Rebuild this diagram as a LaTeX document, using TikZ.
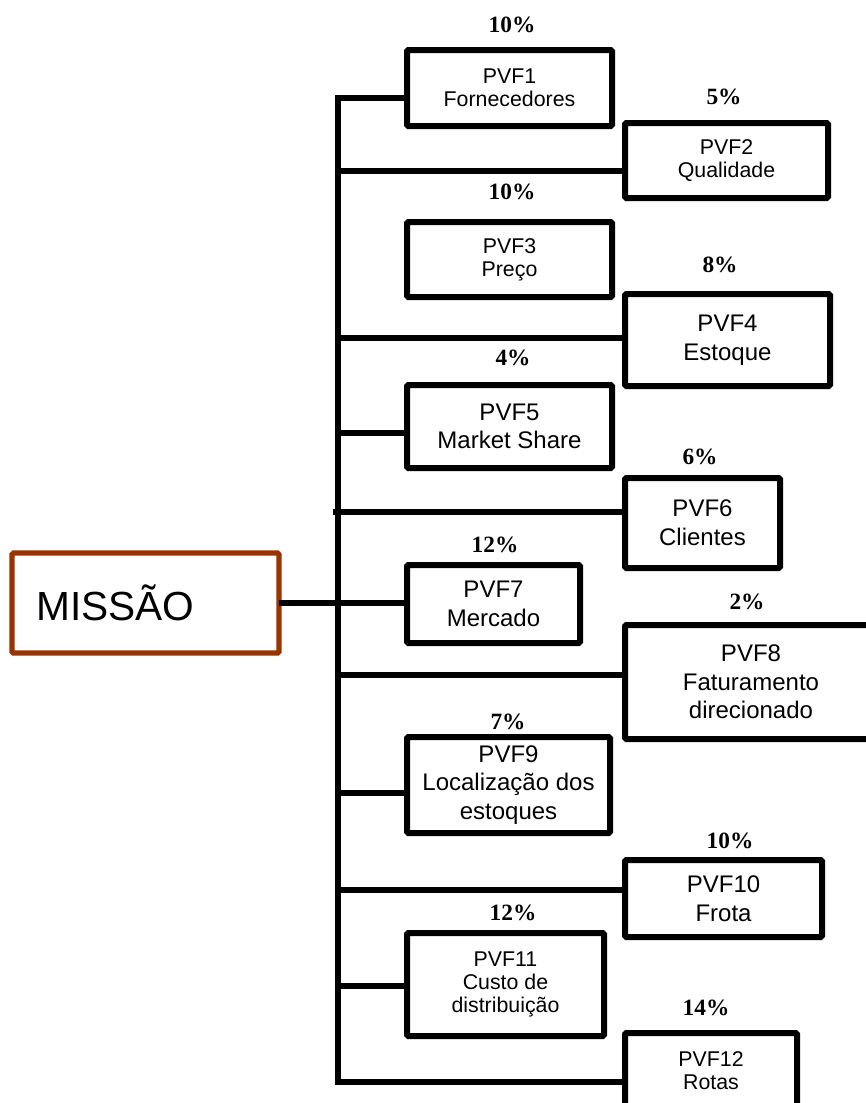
\documentclass[tikz,border=0pt]{standalone}
\usepackage{fontspec}
\setmainfont{Liberation Sans}
\newfontfamily\pctfont{Liberation Serif}

\definecolor{rust}{RGB}{153,51,0}

\tikzset{
  % rectangle given by its corners (x1,y1) (x2,y2) in picture units
  span/.style n args={4}{anchor=north west, at={(#1,#2)},
    minimum width={(#3-#1)*0.75pt}, minimum height={(#4-#2)*0.75pt}},
  box/.style={draw=black, line width=4.5pt, inner sep=0pt, outer sep=0pt,
    rounded corners=1pt, align=center},
  smalltxt/.style={font=\fontsize{16}{17.5}\selectfont},
  largetxt/.style={font=\fontsize{18}{21.5}\selectfont},
  pct/.style={font=\pctfont\bfseries\fontsize{17.5}{20}\selectfont, inner sep=0pt},
  link/.style={line width=4.5pt},
  mission/.style={draw=rust, line width=3.8pt, inner sep=0pt, outer sep=0pt, rounded corners=1pt}
}

\begin{document}
\begin{tikzpicture}[x=0.75pt, y=-0.75pt]
  \useasboundingbox (0,0) rectangle (866,1103);
  \fill[white] (0,0) rectangle (866,1103);
  \clip (0,0) rectangle (866,1103);

  % root box
  \node[mission, span={12}{553}{279}{653}] (m) {};
  \node[anchor=base west, inner sep=0pt, font=\fontsize{30.5}{36}\selectfont] (mt) at (36,620) {MISSÃO};

  % factor boxes, left column
  \node[box, smalltxt, span={407}{50}{612}{126}]   (p1)  {PVF1\\Fornecedores};
  \node[box, smalltxt, span={407}{222}{612}{297}]  (p3)  {PVF3\\Preço};
  \node[box, largetxt, span={407}{385}{612}{468}]  (p5)  {PVF5\\Market Share};
  \node[box, largetxt, span={407}{565}{580}{643}]  (p7)  {PVF7\\Mercado};
  \node[box, largetxt, span={407}{737}{610}{833}]  (p9)  {PVF9\\Localização dos\\estoques};
  \node[box, smalltxt, span={407}{933}{604}{1036}] (p11) {PVF11\\Custo de\\distribuição};

  % factor boxes, right column
  \node[box, smalltxt, span={625}{123}{828}{198}]  (p2)  {PVF2\\Qualidade};
  \node[box, largetxt, span={625}{294}{830}{386}]  (p4)  {PVF4\\Estoque};
  \node[box, largetxt, span={625}{478}{780}{568}]  (p6)  {PVF6\\Clientes};
  \node[box, largetxt, span={625}{625}{877}{739}]  (p8)  {PVF8\\Faturamento\\direcionado};
  \node[box, largetxt, span={625}{860}{822}{937}]  (p10) {PVF10\\Frota};
  \node[box, smalltxt, span={625}{1033}{797}{1108}] (p12) {PVF12\\Rotas};

  % weights
  \node[pct] (w1)  at (512,25)   {10\%};
  \node[pct] (w2)  at (724,97)   {5\%};
  \node[pct] (w3)  at (512,192)  {10\%};
  \node[pct] (w4)  at (720,265)  {8\%};
  \node[pct] (w5)  at (513,358)  {4\%};
  \node[pct] (w6)  at (700,457)  {6\%};
  \node[pct] (w7)  at (495,545)  {12\%};
  \node[pct] (w8)  at (747,602)  {2\%};
  \node[pct] (w9)  at (508,722)  {7\%};
  \node[pct] (w10) at (730,841)  {10\%};
  \node[pct] (w11) at (513,913)  {12\%};
  \node[pct] (w12) at (706,1008) {14\%};

  % trunk junctions
  \coordinate (ttop) at (338,98);
  \coordinate (tbot) at (338,1082);
  \coordinate (j2)  at (338,171);
  \coordinate (j4)  at (338,338);
  \coordinate (j5)  at (338,433);
  \coordinate (j6)  at (333,512);
  \coordinate (j7)  at (338,603);
  \coordinate (j8)  at (338,675);
  \coordinate (j9)  at (338,793);
  \coordinate (j10) at (338,890);
  \coordinate (j11) at (338,986);

  % trunk with first and last branches
  \draw[link, line join=miter] (p1.west |- ttop) -- (ttop) -- (tbot) -- (p12.west |- tbot);

  % branches
  \draw[link] (j2)  -- (p2.west |- j2);
  \draw[link] (j4)  -- (p4.west |- j4);
  \draw[link] (j5)  -- (p5.west |- j5);
  \draw[link] (j6)  -- (p6.west |- j6);
  \draw[link] (m.east |- j7) -- (p7.west |- j7);
  \draw[link] (j8)  -- (p8.west |- j8);
  \draw[link] (j9)  -- (p9.west |- j9);
  \draw[link] (j10) -- (p10.west |- j10);
  \draw[link] (j11) -- (p11.west |- j11);
\end{tikzpicture}
\end{document}
